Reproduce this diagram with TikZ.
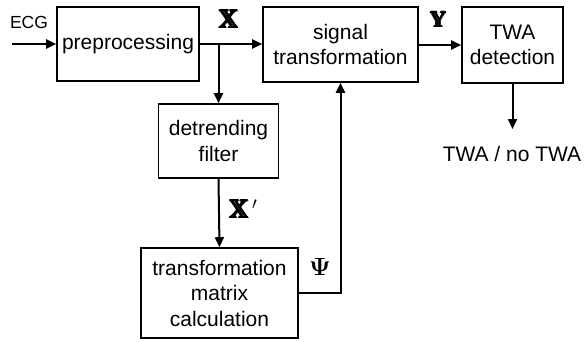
\documentclass[tikz,border=0pt]{standalone}
\usepackage{amssymb,amsmath,bm}
\usepackage{fontspec}
\setmainfont{Liberation Sans}
\usetikzlibrary{arrows.meta}
\newcommand{\hvy}[1]{\pmb{\pmb{#1}}}
\begin{document}
\begin{tikzpicture}[x=1pt,y=-1pt,
  blk/.style={draw,line width=1.6pt,align=center,inner sep=0pt,
    font=\fontsize{21}{25.5}\selectfont},
  arr/.style={line width=2pt,-{Triangle[length=10pt,width=9pt]}},
  lbl/.style={inner sep=0pt}]
\useasboundingbox (0,0) rectangle (584,341);
\node[blk,minimum width=142pt,minimum height=74pt] (pre) at (128,44) {preprocessing};
\node[blk,minimum width=155pt,minimum height=75pt] (sig) at (340.5,44.5) {signal\\transformation};
\node[blk,minimum width=101pt,minimum height=76pt] (twa) at (512.5,45) {TWA\\detection};
\node[blk,minimum width=120pt,minimum height=74pt] (det) at (218.5,141) {detrending\\filter};
\node[blk,minimum width=157pt,minimum height=90pt] (tmc) at (219.5,293) {transformation\\matrix\\calculation};
\coordinate (in) at (12,44);
\coordinate (br) at (218.5,44);
\coordinate (out) at (512.5,129);
\node[lbl,font=\fontsize{17.5}{20}\selectfont] (ecg) at (29,22) {ECG};
\node[lbl,font=\fontsize{21}{25}\selectfont] (res) at (512,154) {TWA / no TWA};
\node[lbl,font=\fontsize{26}{30}\selectfont] (xl) at (229.5,19) {$\hvy{\mathbb{X}}$};
\node[lbl,font=\fontsize{22}{26}\selectfont] (yl) at (439,19) {$\hvy{\mathbb{Y}}$};
\node[lbl,font=\fontsize{26}{30}\selectfont] (xpl) at (244,209) {$\hvy{\mathbb{X}}^{\,\prime}$};
\node[lbl,font=\fontsize{29}{33}\selectfont] (psil) at (320,267) {$\bm{\Psi}$};
\draw[arr] (in) -- (pre.west);
\draw[arr] (pre.east) -- (sig.west |- pre.east);
\draw[arr] (br) -- (det.north);
\draw[arr] (det.south) -- (tmc.north);
\draw[arr] (tmc.east) -| (sig.south);
\draw[arr] (sig.east |- twa.west) -- (twa.west);
\draw[arr] (twa.south) -- (out);
\end{tikzpicture}
\end{document}
